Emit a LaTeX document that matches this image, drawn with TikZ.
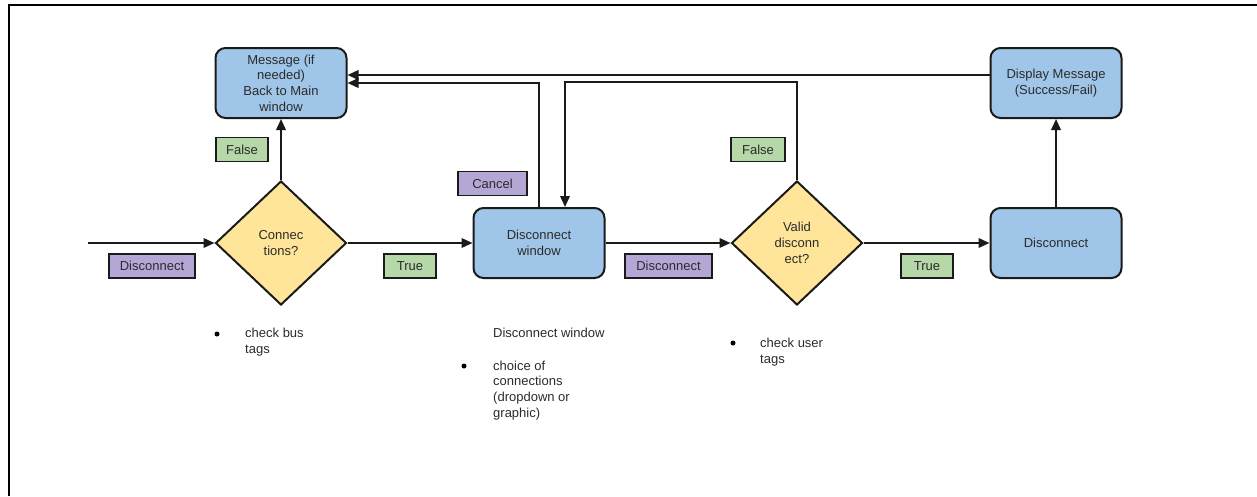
\documentclass[tikz,border=0pt]{standalone}
\usepackage{fontspec}
\setmainfont{Liberation Sans}
\usetikzlibrary{arrows.meta,shapes.geometric}
\definecolor{boxblue}{HTML}{9FC5E8}
\definecolor{decyellow}{HTML}{FFE599}
\definecolor{lblgreen}{HTML}{B6D7A8}
\definecolor{lblpurple}{HTML}{B4A7D6}
\definecolor{txt}{HTML}{2B2B2B}
\definecolor{edge}{HTML}{1A1A1A}
\newcommand{\fsz}{\fontsize{13}{15.7}\selectfont}
\begin{document}
\begin{tikzpicture}[x=1pt,y=-1pt,
  every node/.style={font=\fsz, text=txt},
  proc/.style={draw=edge, line width=2pt, fill=boxblue, rounded corners=10pt, minimum width=131pt, minimum height=70pt, align=center, inner sep=2pt},
  decision/.style={diamond, draw=edge, line width=2pt, fill=decyellow, minimum width=131pt, minimum height=124pt, align=center, inner sep=0pt},
  glabel/.style={draw=edge, line width=1.4pt, fill=lblgreen, minimum height=24pt, inner sep=0pt},
  plabel/.style={draw=edge, line width=1.4pt, fill=lblpurple, minimum height=24pt, inner sep=0pt},
  conn/.style={line width=2pt, draw=edge, -{Triangle[length=11pt,width=9.5pt]}},
  note/.style={anchor=north west, align=left, inner sep=0pt},
  dot/.style={circle, fill=black, inner sep=0pt, minimum size=5pt}
]
\useasboundingbox (0,0) rectangle (1257,496);
\draw[line width=2pt, black] (9,496) -- (9,5) -- (1257,5);

% main nodes
\node[proc] (msg) at (281,83) {Message (if\\needed)\\Back to Main\\window};
\node[decision] (connq) at (281,243) {Connec\\tions?};
\node[proc] (dwin) at (539,243) {Disconnect\\window};
\node[decision] (valid) at (797,243) {Valid\\disconn\\ect?};
\node[proc] (disc) at (1056,243) {Disconnect};
\node[proc] (disp) at (1056,83) {Display Message\\(Success/Fail)};

% labels
\node[plabel, minimum width=86pt] (l1) at (152,266) {Disconnect};
\node[glabel, minimum width=52pt] (l2) at (242,149.5) {False};
\node[glabel, minimum width=52pt] (l3) at (410,266) {True};
\node[plabel, minimum width=69pt] (l4) at (492.5,183.5) {Cancel};
\node[plabel, minimum width=87pt] (l5) at (668.5,266) {Disconnect};
\node[glabel, minimum width=54pt] (l6) at (758,149.5) {False};
\node[glabel, minimum width=52pt] (l7) at (927,266) {True};

% connectors
\coordinate (start) at (88,243);
\coordinate (ytop) at (0,75);
\coordinate (ylow) at (0,83);
\coordinate (fb) at (565,82);
\draw[conn] (start) -- (connq.west);
\draw[conn] (connq.north) -- (msg.south);
\draw[conn] (connq.east) -- (dwin.west);
\draw[conn] (dwin.east) -- (valid.west);
\draw[conn] (valid.east) -- (disc.west);
\draw[conn] (disc.north) -- (disp.south);
\draw[conn] (disp.west |- ytop) -- (msg.east |- ytop);
\draw[conn] (dwin.north) |- (msg.east |- ylow);
\draw[conn] (valid.north) |- (fb) -- (fb |- dwin.north);

% notes
\node[dot] (b1) at (217,334) {};
\node[note] (n1) at (245,328) {check bus\\tags};
\node[note] (n2) at (493,328) {Disconnect window};
\node[dot] (b2) at (464,366) {};
\node[note] (n3) at (493,360.5) {choice of\\connections\\(dropdown or\\graphic)};
\node[dot] (b3) at (733,343) {};
\node[note] (n4) at (760,338) {check user\\tags};
\end{tikzpicture}
\end{document}
